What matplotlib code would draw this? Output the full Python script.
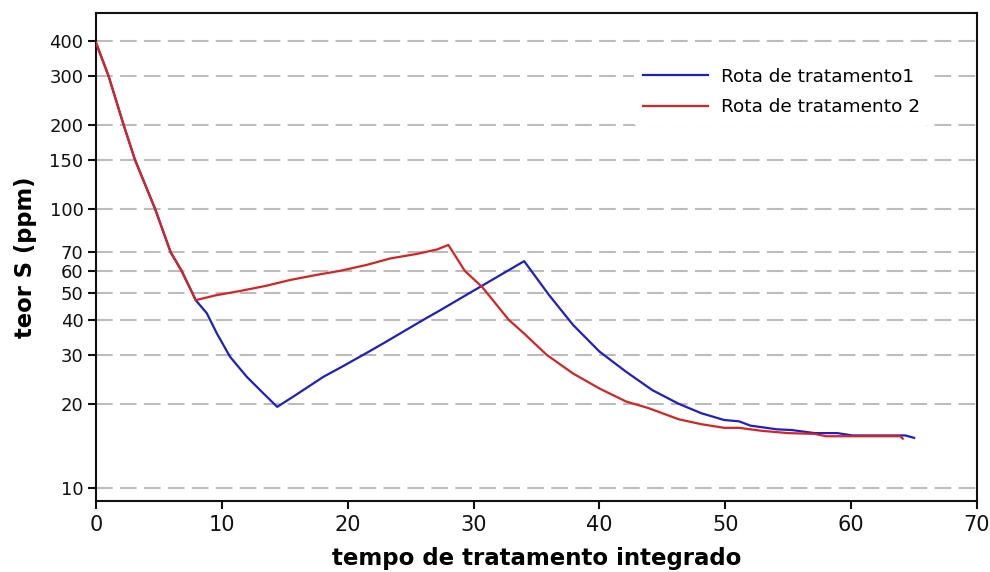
import matplotlib
matplotlib.use("Agg")
import matplotlib.pyplot as plt
from matplotlib.ticker import FixedLocator, NullLocator, FixedFormatter

plt.rcParams['font.family'] = ['DejaVu Sans']

# Data
red_x = [0, 1.0, 2.2, 3.1, 4.7, 5.93, 6.8, 7.65, 7.92, 9.5, 11.45, 13.5, 15.4, 17.5,
         19.4, 21.5, 23.4, 25.5, 27.1, 28.0, 29.3, 30.7, 32.8, 34.0, 35.8, 37.9,
         40.0, 42.1, 43.9, 46.3, 48.1, 49.9, 51.1, 52.9, 55.0, 57.1, 58.0, 60.1,
         62.0, 63.9, 64.1]
red_y = [395, 300, 200, 150, 100, 70, 60, 50, 47.1, 49, 50.8, 53, 55.6, 58,
         60, 63, 66.5, 69, 71.6, 74.3, 60, 52.4, 40, 35.8, 30, 25.7,
         22.7, 20.4, 19.3, 17.6, 16.9, 16.4, 16.4, 16.0, 15.7, 15.6, 15.3, 15.3,
         15.3, 15.3, 15.0]

blue_x = [0, 1.0, 2.2, 3.1, 4.7, 5.93, 6.8, 7.65, 7.92, 8.8, 9.6, 10.65, 11.98,
          13.3, 14.4, 16.0, 18.07, 19.5, 21.25, 23.0, 24.5, 26.0, 27.3, 29.7,
          32.0, 34.02, 36.0, 37.9, 40.0, 42.1, 44.2, 46.3, 48.1, 49.9, 51.1,
          52.0, 54.1, 55.3, 57.1, 58.9, 60.1, 62.0, 64.3, 65.0]
blue_y = [395, 300, 200, 150, 100, 70, 60, 50, 47.1, 42.3, 35.8, 29.5, 25.0,
          21.8, 19.5, 21.7, 25, 27.1, 30, 33.3, 36.5, 40, 43.2, 50,
          57.5, 65, 49.1, 38.4, 30.8, 26.1, 22.4, 20.0, 18.5, 17.5, 17.3,
          16.7, 16.2, 16.1, 15.7, 15.7, 15.4, 15.4, 15.4, 15.1]

series_labels = ["Rota de tratamento1", "Rota de tratamento 2"]
y_ticks = [10, 20, 30, 40, 50, 60, 70, 100, 150, 200, 300, 400]
x_ticks = [0, 10, 20, 30, 40, 50, 60, 70]
x_label = "tempo de tratamento integrado"
y_label = "teor S (ppm)"

fig = plt.figure(figsize=(9.9, 5.72), dpi=100)
ax = fig.add_axes([96/990, 71/572, 881/990, 488/572])

ax.plot(blue_x, blue_y, color='#1f1fc4', lw=1.6, label=series_labels[0], zorder=3)
ax.plot(red_x, red_y, color='#d62424', lw=1.6, label=series_labels[1], zorder=4)

ax.set_yscale('log')
ax.set_xlim(0, 70)
ax.set_ylim(8.96, 505)
ax.yaxis.set_major_locator(FixedLocator(y_ticks))
ax.yaxis.set_major_formatter(FixedFormatter([str(v) for v in y_ticks]))
ax.yaxis.set_minor_locator(NullLocator())
ax.set_xticks(x_ticks)

for v in y_ticks:
    ax.axhline(v, color='#bcbcbc', lw=1.5, ls=(0, (8, 3.5)), zorder=1)

for s in ax.spines.values():
    s.set_linewidth(1.5)
    s.set_color('#111111')

ax.tick_params(axis='y', direction='out', length=6, width=1.5, labelsize=13, pad=3,
               colors='#111111')
ax.tick_params(axis='x', direction='out', length=6, width=1.5, labelsize=15, pad=4,
               colors='#111111')

ax.set_xlabel(x_label, fontsize=16.5, fontweight='bold', labelpad=9)
ax.set_ylabel(y_label, fontsize=16.3, fontweight='bold', labelpad=9)

leg = ax.legend(loc='upper left', bbox_to_anchor=(0.6, 0.926), frameon=True,
                fontsize=13.3, handlelength=3.5, handletextpad=0.7, labelspacing=0.69,
                borderpad=0.5)
leg.get_frame().set_edgecolor('none')
leg.get_frame().set_facecolor('white')
leg.get_frame().set_alpha(1)

fig.savefig('out.png', dpi=100)
